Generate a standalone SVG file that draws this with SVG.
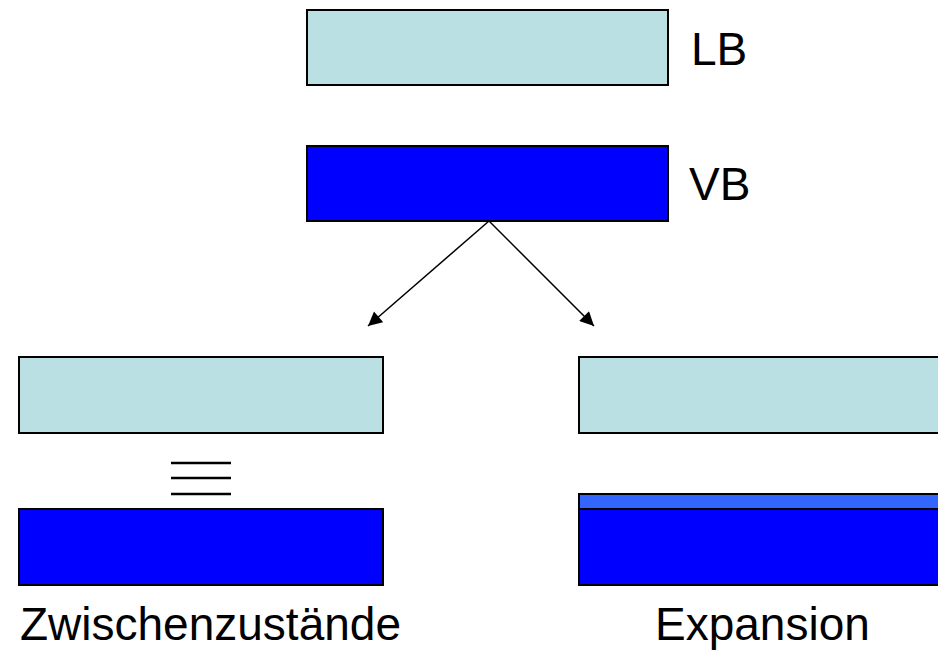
<svg xmlns="http://www.w3.org/2000/svg" width="938" height="651" viewBox="0 0 938 651">
<defs>
<style>
.lb{fill:#BBE0E3;stroke:#000;stroke-width:2}
.vb{fill:#0000FF;stroke:#000;stroke-width:2}
.ex{fill:#3366FF;stroke:#000;stroke-width:2}
.t{font-family:"Liberation Sans",Arial,sans-serif;font-size:46px;fill:#000}
.c{stroke:#000;stroke-width:1.5;fill:none}
</style>
<marker id="ah" viewBox="0 0 10 10" refX="10" refY="5" markerWidth="15" markerHeight="14" markerUnits="userSpaceOnUse" orient="auto">
<path d="M0,0 L10,5 L0,10 z" fill="#000"/>
</marker>
</defs>
<rect width="938" height="651" fill="#fff"/>
<g id="lb">
<rect class="lb" x="307" y="10" width="361" height="75"/>
<text class="t" x="691" y="65">LB</text>
</g>
<g id="vb">
<rect class="vb" x="307" y="146" width="361" height="75"/>
<text class="t" x="689" y="200">VB</text>
</g>
<g id="connectors">
<line class="c" x1="489" y1="221" x2="368" y2="326" marker-end="url(#ah)"/>
<line class="c" x1="489" y1="221" x2="594" y2="326" marker-end="url(#ah)"/>
</g>
<g id="left">
<rect class="lb" x="19" y="357" width="364" height="76"/>
<g stroke="#000" stroke-width="2.5">
<line x1="171" y1="463" x2="231" y2="463"/>
<line x1="171" y1="478" x2="231" y2="478"/>
<line x1="171" y1="494" x2="231" y2="494"/>
</g>
<rect class="vb" x="19" y="509" width="364" height="76"/>
<text class="t" x="20" y="640">Zwischenzustände</text>
</g>
<g id="right">
<rect class="lb" x="579" y="357" width="370" height="76"/>
<rect class="ex" x="579" y="494" width="370" height="15"/>
<rect class="vb" x="579" y="509" width="370" height="76"/>
<text class="t" x="655" y="640">Expansion</text>
</g>
</svg>
